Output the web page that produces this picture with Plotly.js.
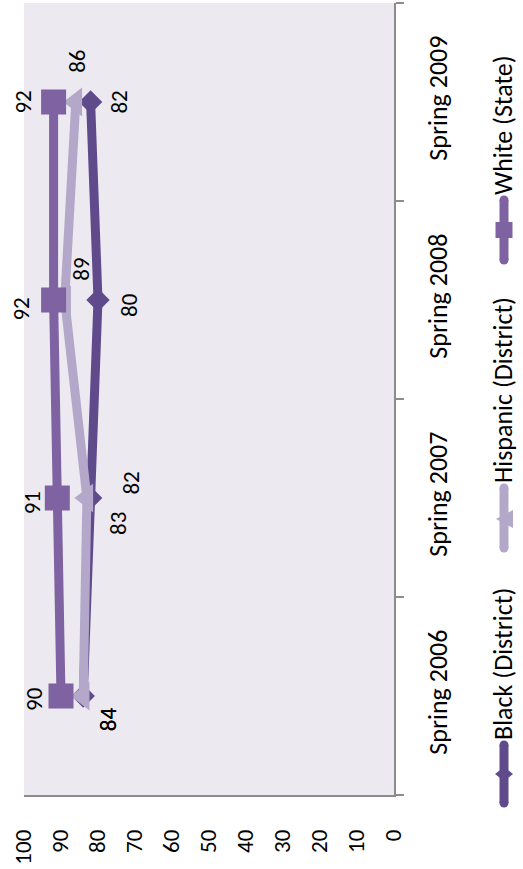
<!DOCTYPE html>
<html>
<head>
<meta charset="utf-8">
<script src="https://cdn.plot.ly/plotly-3.0.1.min.js"></script>
<style>
  html, body { margin: 0; padding: 0; background: #ffffff; }
  #chart { width: 523px; height: 869px; }
</style>
</head>
<body>
<div id="chart"></div>
<script>
// ---- data ----
var categories = ["Spring 2006", "Spring 2007", "Spring 2008", "Spring 2009"];
var seriesNames = ["Black (District)", "Hispanic (District)", "White (State)"];
var blackValues = [84, 82, 80, 82];
var hispanicValues = [84, 83, 89, 86];
var whiteValues = [90, 91, 92, 92];
var valueTicks = [0, 10, 20, 30, 40, 50, 60, 70, 80, 90, 100];

// ---- styles ----
var W = 523, H = 869;
var FONT = "Calibri, Carlito, Lato, 'DejaVu Sans', sans-serif";
var colors = ["#5F4B8B", "#B4A8CA", "#7E62A1"];
var symbols = ["diamond", "triangle-left", "square"];
var markerSizes = [18, 25, 25];
var numFont = 23, txtFont = 26;

// label offsets in pixels [xshift, yshift] per series per point
var labelOffsets = [
  [[25, -23], [40, 15], [31, -5], [28, 0]],
  [[25, -23], [31, -25], [16, 31], [1, 41]],
  [[-27, -3], [-25, -5], [-33, -9], [-31, 0]]
];

var allValues = [blackValues, hispanicValues, whiteValues];

var traces = allValues.map(function (vals, s) {
  return {
    type: "scatter",
    mode: "lines+markers",
    name: seriesNames[s],
    x: vals,
    y: categories,
    line: { color: colors[s], width: 9 },
    marker: { symbol: symbols[s], size: markerSizes[s], color: colors[s], line: { width: 0 } },
    showlegend: false,
    hoverinfo: "skip"
  };
});

var annotations = [];
allValues.forEach(function (vals, s) {
  vals.forEach(function (v, i) {
    annotations.push({
      x: v, y: categories[i], xref: "x", yref: "y",
      text: String(v), showarrow: false, textangle: -90,
      xshift: labelOffsets[s][i][0], yshift: labelOffsets[s][i][1],
      font: { family: FONT, size: numFont, color: "#000" },
      xanchor: "center", yanchor: "middle"
    });
  });
});

// legend (rotated, drawn manually)
function px(x) { return x / W; }
function py(y) { return 1 - y / H; }
var legendItems = [
  { lineTop: 745, lineBot: 803, mid: 774, textBottom: 742 },
  { lineTop: 488, lineBot: 548, mid: 519, textBottom: 485 },
  { lineTop: 200, lineBot: 260, mid: 230, textBottom: 197 }
];
var legX = 504;
var shapes = [];
legendItems.forEach(function (it, s) {
  var c = colors[s];
  shapes.push({ type: "line", xref: "paper", yref: "paper",
    x0: px(legX), x1: px(legX), y0: py(it.lineTop), y1: py(it.lineBot),
    line: { color: c, width: 9 } });
  shapes.push({ type: "circle", xref: "paper", yref: "paper",
    x0: px(legX - 4.5), x1: px(legX + 4.5), y0: py(it.lineTop - 4.5), y1: py(it.lineTop + 4.5),
    fillcolor: c, line: { width: 0 } });
  shapes.push({ type: "circle", xref: "paper", yref: "paper",
    x0: px(legX - 4.5), x1: px(legX + 4.5), y0: py(it.lineBot - 4.5), y1: py(it.lineBot + 4.5),
    fillcolor: c, line: { width: 0 } });
  var m = it.mid, path;
  if (s === 0) {
    path = "M" + px(legX - 9) + "," + py(m) + " L" + px(legX) + "," + py(m - 7) +
           " L" + px(legX + 9) + "," + py(m) + " L" + px(legX) + "," + py(m + 7) + " Z";
  } else if (s === 1) {
    path = "M" + px(legX - 8) + "," + py(m) + " L" + px(legX + 9) + "," + py(m - 9) +
           " L" + px(legX + 9) + "," + py(m + 9) + " Z";
  } else {
    path = "M" + px(legX - 8.5) + "," + py(m - 8) + " L" + px(legX + 8.5) + "," + py(m - 8) +
           " L" + px(legX + 8.5) + "," + py(m + 8) + " L" + px(legX - 8.5) + "," + py(m + 8) + " Z";
  }
  shapes.push({ type: "path", xref: "paper", yref: "paper", path: path,
    fillcolor: c, line: { width: 0 } });
  annotations.push({
    x: px(legX - 1), y: py(it.textBottom), xref: "paper", yref: "paper",
    text: seriesNames[s], showarrow: false, textangle: -90,
    xanchor: "center", yanchor: "bottom",
    font: { family: FONT, size: txtFont, color: "#000" }
  });
});

var layout = {
  width: W, height: H,
  margin: { l: 0, r: 0, t: 0, b: 0 },
  paper_bgcolor: "#ffffff",
  plot_bgcolor: "#ECEAF0",
  showlegend: false,
  font: { family: FONT, color: "#000" },
  xaxis: {
    domain: [24 / W, 394 / W],
    range: [100, 0],
    tickvals: valueTicks,
    tickangle: -90,
    ticks: "",
    ticklabelstandoff: 24,
    showline: true, linecolor: "#8C8C8C", linewidth: 1.5,
    showgrid: false, zeroline: false,
    tickfont: { family: FONT, size: numFont, color: "#000" },
    fixedrange: true
  },
  yaxis: {
    domain: [(H - 795) / H, (H - 3) / H],
    type: "category",
    categoryarray: categories,
    range: [-0.5, 3.5],
    side: "right",
    showline: true, linecolor: "#8C8C8C", linewidth: 1.5,
    ticks: "outside", tickson: "boundaries", ticklen: 8,
    tickcolor: "#8C8C8C", tickwidth: 1.5,
    tickangle: -90,
    ticklabelstandoff: 20,
    showgrid: false, zeroline: false,
    tickfont: { family: FONT, size: txtFont, color: "#000" },
    fixedrange: true
  },
  annotations: annotations,
  shapes: shapes
};

Plotly.newPlot("chart", traces, layout, { displayModeBar: false, staticPlot: true });
</script>
</body>
</html>
